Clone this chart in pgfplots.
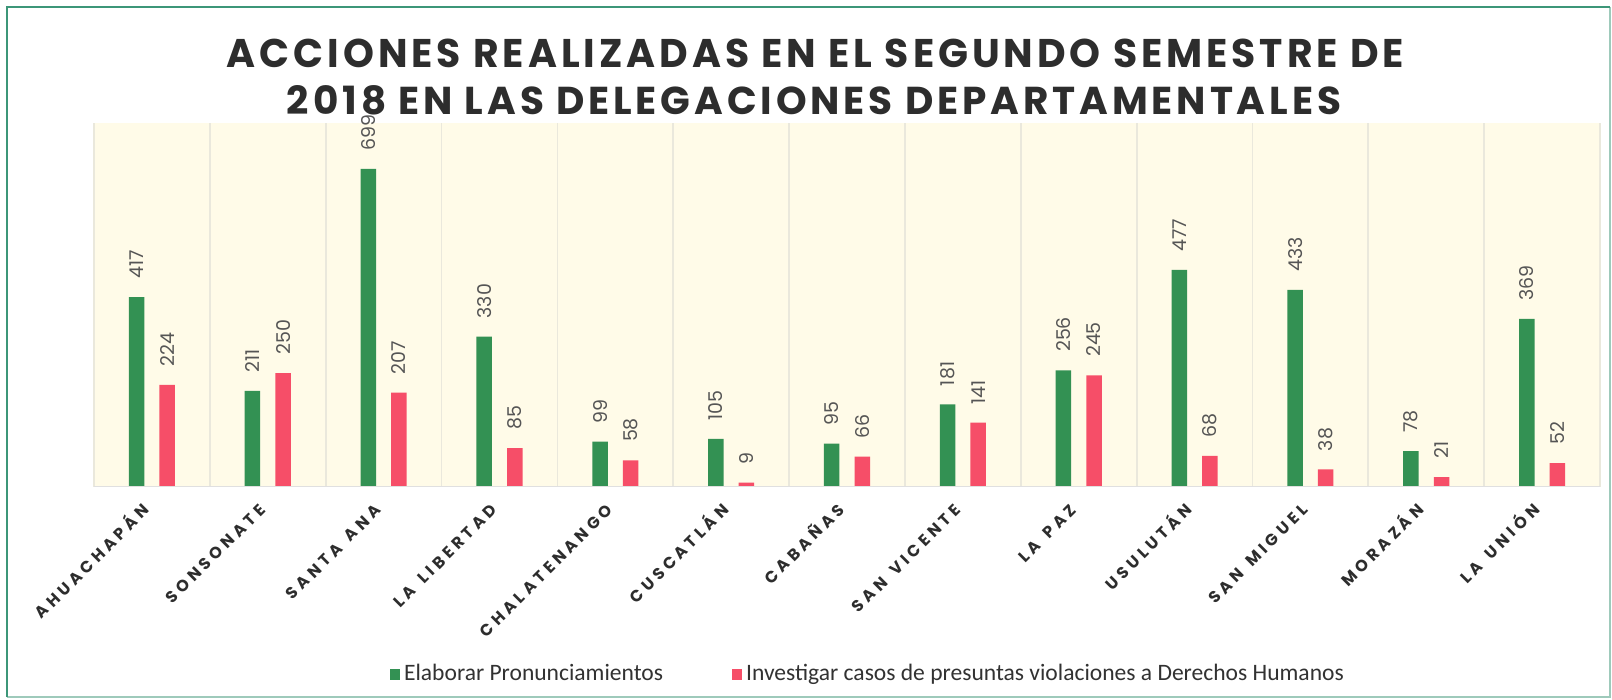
\documentclass[border=0pt]{standalone}
\usepackage{pgfplots}
\pgfplotsset{compat=1.18}
\usepackage{fontspec}
\setmainfont{Poppins}
\newfontfamily\titlefont{Poppins}[LetterSpace=10]
\newfontfamily\catfont{Poppins}[LetterSpace=25, WordSpace=1.4]
\newfontfamily\numfont{Poppins}
\newfontfamily\legfont{Carlito}
\definecolor{barG}{RGB}{51,145,83}
\definecolor{barR}{RGB}{246,78,104}
\definecolor{cream}{RGB}{255,251,232}
\definecolor{sepcol}{RGB}{234,232,220}
\definecolor{titlecol}{RGB}{45,45,45}
\definecolor{valcol}{RGB}{85,85,85}
\definecolor{catcol}{RGB}{45,45,45}
\definecolor{legcol}{RGB}{50,50,50}
\definecolor{bordercol}{RGB}{60,150,120}
\begin{document}
\begin{tikzpicture}
\useasboundingbox (0,0) rectangle (161.2mm,69.9mm);
\fill[white] (0,0) rectangle (161.2mm,69.9mm);
\draw[bordercol!50, line width=0.15mm] (161.0mm,69.2mm) -- (161.0mm,0.2mm) -- (0.7mm,0.2mm);
\draw[bordercol, line width=0.2mm] (0.7mm,0.2mm) -- (0.7mm,69.2mm) -- (161.0mm,69.2mm);
\begin{axis}[
  at={(9.4mm,21.23mm)}, anchor=south west,
  width=150.6mm, height=36.37mm, scale only axis,
  xmin=-0.5, xmax=12.5, ymin=0, ymax=800,
  axis background/.style={fill=cream},
  axis line style={draw=none},
  ytick=\empty,
  xtick={0,...,12},
  xticklabels={AHUACHAPÁN,SONSONATE,SANTA ANA,LA LIBERTAD,CHALATENANGO,CUSCATLÁN,CABAÑAS,SAN VICENTE,LA PAZ,USULUTÁN,SAN MIGUEL,MORAZÁN,LA UNIÓN},
  xticklabel style={yshift=-2.4mm, xshift=-0.1mm, rotate=45, anchor=base east, inner sep=0pt, font=\catfont\bfseries\fontsize{4.6}{5}\selectfont, text=catcol},
  major tick length=0pt,
  extra x ticks={-0.5,0.5,1.5,2.5,3.5,4.5,5.5,6.5,7.5,8.5,9.5,10.5,11.5,12.5},
  extra x tick labels={},
  extra x tick style={grid=major, major grid style={sepcol, line width=0.5pt}},
  ybar=1.51mm, bar width=1.55mm,
  nodes near coords,
  /pgf/number format/assume math mode=true,
  every node near coord/.append style={rotate=90, anchor=west, inner xsep=1.77mm, inner ysep=0pt, font=\numfont\fontsize{5.4}{6}\selectfont, text=valcol},
  legend columns=2,
  legend style={at={(0.1966,-0.5177)}, anchor=west, draw=none, fill=none, inner sep=0pt, outer sep=0pt,
    font=\legfont\fontsize{6.7}{8}\selectfont, text=legcol,
    nodes={inner xsep=0.4mm, inner ysep=0pt},
    /tikz/every even column/.append style={column sep=6.5mm}},
  legend image code/.code={\fill[#1] (0mm,-0.55mm) rectangle (1mm,0.55mm);},
]
\addplot[fill=barG, draw=none] coordinates {(0,417) (1,211) (2,699) (3,330) (4,99) (5,105) (6,95) (7,181) (8,256) (9,477) (10,433) (11,78) (12,369)};
\addplot[fill=barR, draw=none] coordinates {(0,224) (1,250) (2,207) (3,85) (4,58) (5,9) (6,66) (7,141) (8,245) (9,68) (10,38) (11,21) (12,52)};
\legend{Elaborar Pronunciamientos, Investigar casos de presuntas violaciones a Derechos Humanos}
\draw[black!12, line width=0.6pt] (axis cs:-0.5,0) -- (axis cs:12.5,0);
\end{axis}
\node[anchor=base, inner sep=0pt, text=titlecol] at (81.55mm,63.15mm) {\resizebox{117.7mm}{2.85mm}{\titlefont\bfseries ACCIONES REALIZADAS EN EL SEGUNDO SEMESTRE DE}};
\node[anchor=base, inner sep=0pt, text=titlecol] at (81.4mm,58.4mm) {\resizebox{105.4mm}{2.9mm}{\titlefont\bfseries 2018 EN LAS DELEGACIONES DEPARTAMENTALES}};
\end{tikzpicture}
\end{document}
